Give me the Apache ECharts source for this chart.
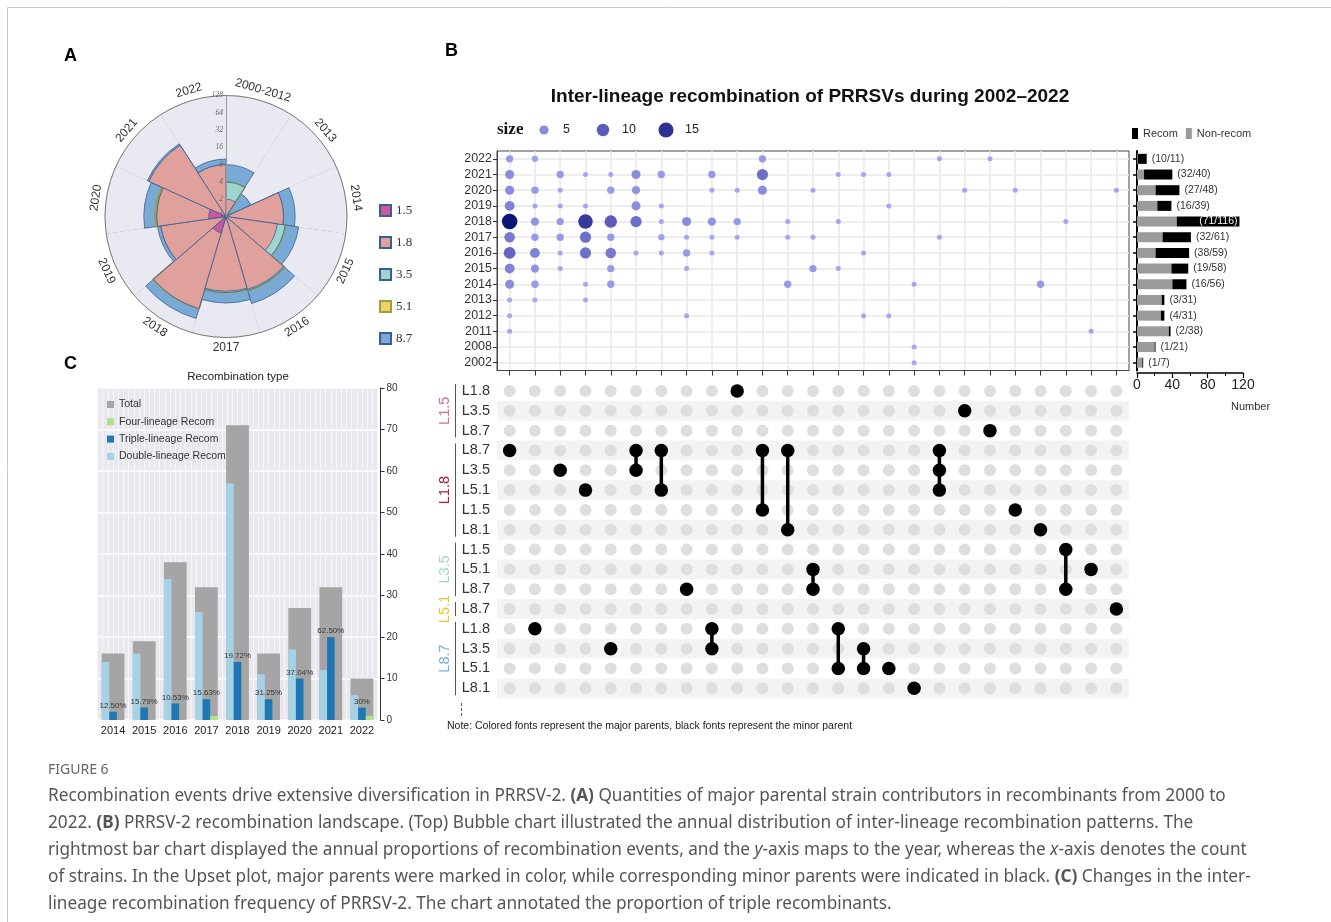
<!DOCTYPE html>
<html><head><meta charset="utf-8">
<script src="https://cdn.jsdelivr.net/npm/echarts@6/dist/echarts.min.js"></script>
<style>html,body{margin:0;padding:0;background:#fff}#c{width:1331px;height:922px}</style>
</head><body><div id="c"></div>
<script>
// ================= DATA =================
// Panel A: major parental lineage counts per period (stacked, log2 radius)
const polarCats = ['2000-2012','2013','2014','2015','2016','2017','2018','2019','2020','2021','2022'];
const l15 = [0,0,0,0,0,0,2,0,2,0,0];
const l18 = [2,1,10,8,21,20,45,14,14,30,8];
const l35 = [2,0,0,3,1,1,0,0,0,0,0];
const l51 = [0,null,null,0,0,0,0,null,1,null,null];
const l87 = [4,2,6,8,16,11,24,2,10,2,2];
const lineageNames = ['1.5','1.8','3.5','5.1','8.7'];
const radiusTickLabels = ['1','2','4','8','16','32','64','128'];

// Panel B: bubble chart (column = recombination pattern, year, count)
const bubbleYears = ['2022','2021','2020','2019','2018','2017','2016','2015','2014','2013','2012','2011','2008','2002'];
const bubbles = [
 [0,'2022',3],[0,'2021',5],[0,'2020',5],[0,'2019',6],[0,'2018',16],[0,'2017',7],[0,'2016',9],[0,'2015',6],[0,'2014',5],[0,'2013',1],[0,'2012',1],[0,'2011',1],
 [1,'2022',2],[1,'2020',3],[1,'2019',1],[1,'2018',4],[1,'2017',3],[1,'2016',6],[1,'2015',4],[1,'2014',3],[1,'2013',1],
 [2,'2021',3],[2,'2020',1],[2,'2019',1],[2,'2018',3],[2,'2017',3],[2,'2016',1],[2,'2015',1],
 [3,'2021',1],[3,'2019',1],[3,'2018',14],[3,'2017',8],[3,'2016',8],[3,'2014',1],[3,'2013',1],
 [4,'2021',1],[4,'2020',3],[4,'2018',10],[4,'2017',3],[4,'2016',7],[4,'2015',3],[4,'2014',3],
 [5,'2021',5],[5,'2020',4],[5,'2019',5],[5,'2018',8],[5,'2016',1],
 [6,'2021',3],[6,'2019',1],[6,'2018',1],[6,'2017',2],[6,'2016',1],
 [7,'2018',5],[7,'2017',1],[7,'2016',3],[7,'2015',1],[7,'2012',1],
 [8,'2021',3],[8,'2020',1],[8,'2018',4],[8,'2017',1],[8,'2016',1],
 [9,'2020',1],[9,'2018',3],[9,'2017',1],
 [10,'2022',3],[10,'2021',8],[10,'2020',5],
 [11,'2018',1],[11,'2017',1],[11,'2014',3],
 [12,'2020',1],[12,'2017',1],[12,'2015',3],
 [13,'2021',1],[13,'2018',1],[13,'2015',1],
 [14,'2021',1],[14,'2016',1],[14,'2012',1],
 [15,'2021',1],[15,'2019',1],[15,'2012',1],
 [16,'2014',1],[16,'2008',1],[16,'2002',1],
 [17,'2022',1],[17,'2017',1],
 [18,'2020',1],[19,'2022',1],[20,'2020',1],[21,'2014',3],[22,'2018',1],[23,'2011',1],[24,'2020',1]
];
const sizeLegendValues = [5,10,15];
// Panel B: right bars (recombinant / total strains per year)
const recom  = [10,32,27,16,71,32,38,19,16,3,4,2,1,1];
const totals = [11,40,48,39,116,61,59,58,56,31,31,38,21,7];
// Panel B: upset matrix (major|minor parent rows, and members of each pattern column)
const upsetRows = ['L1.5|L1.8','L1.5|L3.5','L1.5|L8.7','L1.8|L8.7','L1.8|L3.5','L1.8|L5.1','L1.8|L1.5','L1.8|L8.1',
                   'L3.5|L1.5','L3.5|L5.1','L3.5|L8.7','L5.1|L8.7','L8.7|L1.8','L8.7|L3.5','L8.7|L5.1','L8.7|L8.1'];
const patternMembers = [[3],[12],[4],[5],[13],[3,4],[3,5],[10],[12,13],[0],[3,6],[3,7],[9,10],[12,14],[13,14],[14],[15],[3,4,5],[1],[2],[6],[7],[8,10],[9],[11]];

// Panel C: recombination type per year
const cYears   = ['2014','2015','2016','2017','2018','2019','2020','2021','2022'];
const cTotal   = [16,19,38,32,71,16,27,32,10];
const cDouble  = [14,16,34,26,57,11,17,12,6];
const cTriple  = [2,3,4,5,14,5,10,20,3];
const cFour    = [0,0,0,1,0,0,0,0,1];
const cTriplePct = ['12.50%','15.79%','10.53%','15.63%','19.72%','31.25%','37.04%','62.50%','30%'];

// ================= STYLE =================
const lineageColors = {'1.5':'#c55a9e','1.8':'#e0a09c','3.5':'#9ed6cf','5.1':'#f2d16b','8.7':'#79a9d5'};
const groupColors = {'L1.5':'#d66a9c','L1.8':'#b3184b','L3.5':'#9fd4d4','L5.1':'#f0c232','L8.7':'#77b1de'};
const colorStops = [[1,[161,168,240]],[5,[136,141,222]],[10,[90,92,184]],[15,[46,49,146]],[16,[12,22,118]]];
function bubbleColor(v){
  for (let i=1;i<colorStops.length;i++){
    if (v<=colorStops[i][0]){
      const a=colorStops[i-1], b=colorStops[i], t=(v-a[0])/(b[0]-a[0]);
      const c=a[1].map((x,k)=>Math.round(x+(b[1][k]-x)*t));
      return 'rgb('+c.join(',')+')';
    }
  }
  return 'rgb('+colorStops[colorStops.length-1][1].join(',')+')';
}
function bubbleSize(v){ return Math.sqrt(25 + (v-1)*14.4); }
const SANS = 'Liberation Sans, Arial, sans-serif';
const SERIF = 'Liberation Serif, Times New Roman, serif';

// ================= DERIVED =================
const counts = [l15,l18,l35,l51,l87];
const running = polarCats.map(()=>0);
const cumLog = counts.map(vals => vals.map((v,i)=>{
  if (v==null) return '-';
  running[i]+=v;
  return running[i]>0 ? Math.log2(running[i]) : '-';
}));
const patternNames = patternMembers.map(rows => rows.map(r=>upsetRows[r].replace('|',':')).join(' + '));
const bgDots = [];
patternMembers.forEach((_,c)=>upsetRows.forEach((__,r)=>bgDots.push([c,r])));
const memberDots = [];
patternMembers.forEach((rows,c)=>rows.forEach(r=>memberDots.push([c,r])));
const links = [];
patternMembers.forEach((rows,c)=>{ if(rows.length>1){ links.push([c,Math.min(...rows)],[c,Math.max(...rows)],'-'); }});

const chart = echarts.init(document.getElementById('c'), null, {renderer:'canvas', width:1331, height:922});

const polarSeries = lineageNames.map((n,k)=>({
  type:'bar', coordinateSystem:'polar', polarIndex:0, name:n, data:cumLog[k],
  barGap:'-100%', barCategoryGap:'0%',
  itemStyle:{color:lineageColors[n], borderColor: n==='5.1' ? '#9aa03c' : '#3d5e93', borderWidth: n==='5.1' ? 2 : 0.8}
})).reverse();

const hiddenAxis = {axisLine:{show:false}, axisTick:{show:false}, axisLabel:{show:false}, splitLine:{show:false}, splitArea:{show:false}};

const option = {
  animation:false,
  textStyle:{fontFamily:SANS},
  legend:[
    {data:lineageNames, orient:'vertical', left:374, top:199, itemWidth:11, itemHeight:11, itemGap:19, icon:'rect',
     textStyle:{fontFamily:SERIF, fontSize:13, color:'#333'}, selectedMode:false},
    {data:['Recom','Non-recom'], left:1127, top:123, itemWidth:6, itemHeight:11, itemGap:8, icon:'rect',
     textStyle:{fontSize:11, color:'#333'}, selectedMode:false},
    {data:['Total','Four-lineage Recom','Triple-lineage Recom','Double-lineage Recom'], orient:'vertical', left:102, top:394,
     itemWidth:7, itemHeight:7, itemGap:6.3, icon:'rect', textStyle:{fontSize:10.5, color:'#333'}, selectedMode:false}
  ],
  polar:[{center:[226,216.5], radius:121},{center:[226,216.5], radius:121}],
  angleAxis:[
    {polarIndex:0, type:'category', data:polarCats, startAngle:90, clockwise:true, boundaryGap:true,
     axisLine:{show:true, lineStyle:{color:'#7a7a7a', width:1}}, axisTick:{show:false}, axisLabel:{show:false},
     splitLine:{show:true, interval:0, lineStyle:{color:'#8a8a8a', width:1}},
     splitArea:{show:true, interval:0, areaStyle:{color:['#e8e9f1','#e8e9f1']}}},
    {polarIndex:1, type:'category', data:polarCats, startAngle:90, clockwise:true, show:false}
  ],
  radiusAxis:[
    {polarIndex:0, type:'value', min:0, max:7, interval:1, axisLine:{show:false}, axisTick:{show:false}, axisLabel:{show:false},
     splitLine:{show:true, lineStyle:{color:'#d3d5dd', width:1}}},
    {polarIndex:1, type:'value', min:0, max:7, interval:1, z:20,
     axisLine:{show:true, lineStyle:{color:'#9a9a9a', width:1}}, axisTick:{show:false}, splitLine:{show:false},
     axisLabel:{show:true, formatter:v=>radiusTickLabels[v], fontSize:7.5, fontStyle:'italic', fontFamily:SERIF, color:'#666', margin:3}}
  ],
  grid:[
    {left:497, top:151, width:632, height:219.5, show:true, borderColor:'#444', borderWidth:1, backgroundColor:'transparent'},
    {left:1137, top:151, width:106, height:219.5},
    {left:497, top:381.1, width:632, height:317.1},
    {left:97.5, top:388, width:280, height:332, show:true, backgroundColor:'#e8e8ee', borderWidth:0},
    {left:97.5, top:388, width:280, height:332}
  ],
  xAxis:[
    {gridIndex:0, type:'category', data:patternNames, boundaryGap:true,
     axisLine:{show:true, lineStyle:{color:'#444'}}, axisTick:{show:true, interval:0, alignWithLabel:true, length:5, lineStyle:{color:'#333'}},
     axisLabel:{show:false, interval:0}, splitLine:{show:true, interval:0, alignWithLabel:true, lineStyle:{color:'#e9e9e9', width:1.5}}},
    {gridIndex:1, type:'value', min:0, max:120, interval:40, offset:2.5,
     axisLine:{show:true, lineStyle:{color:'#000', width:1.5}}, axisTick:{show:true, length:5, lineStyle:{color:'#000', width:1.2}},
     minorTick:{show:true, splitNumber:2, length:3, lineStyle:{color:'#000'}},
     axisLabel:{fontSize:14, color:'#222', margin:5}, splitLine:{show:false},
     name:'Number', nameLocation:'end', nameGap:2, nameTextStyle:{fontSize:11, color:'#333', align:'left', verticalAlign:'top', padding:[28,0,0,-14]}},
    Object.assign({gridIndex:2, type:'category', data:patternNames}, hiddenAxis),
    {gridIndex:3, type:'category', data:cYears, axisLine:{show:false, onZero:false}, axisTick:{show:false}, axisLabel:{fontSize:11, color:'#222', margin:5, interval:0}},
    {gridIndex:3, type:'value', min:0, max:54, interval:1, position:'top', axisLine:{show:false, onZero:false}, axisTick:{show:false}, axisLabel:{show:false},
     splitLine:{show:true, lineStyle:{color:'#f6f6f9', width:1}}},
    Object.assign({gridIndex:4, type:'category', data:cYears}, hiddenAxis)
  ],
  yAxis:[
    {gridIndex:0, type:'category', data:bubbleYears, inverse:true, boundaryGap:true,
     axisLine:{show:true, lineStyle:{color:'#444'}}, axisTick:{show:true, interval:0, alignWithLabel:true, length:4, lineStyle:{color:'#333'}},
     axisLabel:{fontSize:12.5, color:'#333', margin:5, interval:0},
     splitLine:{show:true, interval:0, alignWithLabel:true, lineStyle:{color:'#e9e9e9', width:1.5}}},
    {gridIndex:1, type:'category', data:bubbleYears, inverse:true,
     axisLine:{show:true, onZero:false, lineStyle:{color:'#000', width:2}}, axisTick:{show:true, interval:0, alignWithLabel:true, length:4, lineStyle:{color:'#000', width:1.5}},
     axisLabel:{show:false, interval:0}},
    {gridIndex:2, type:'category', data:upsetRows, inverse:true, axisLine:{show:false}, axisTick:{show:false},
     axisLabel:{formatter:v=>v.split('|')[1], fontSize:14.5, color:'#333', margin:7, interval:0},
     splitArea:{show:true, interval:0, areaStyle:{color:['#ffffff','#f3f3f3']}}},
    {gridIndex:3, type:'value', position:'right', min:0, max:80, interval:10, offset:3,
     axisLine:{show:true, onZero:false, lineStyle:{color:'#333'}}, axisTick:{show:true, length:4, lineStyle:{color:'#333'}},
     axisLabel:{fontSize:10, color:'#333', margin:6}, splitLine:{show:true, lineStyle:{color:'#ffffff', width:1.5}}},
    Object.assign({gridIndex:4, type:'value', min:0, max:80, position:'right'}, hiddenAxis)
  ],
  series:[
    ...polarSeries,
    {type:'scatter', name:'bubbles', xAxisIndex:0, yAxisIndex:0,
     data:bubbles.map(b=>[b[0], bubbleYears.indexOf(b[1]), b[2]]),
     symbolSize:(v)=>bubbleSize(v[2]), itemStyle:{color:(p)=>bubbleColor(p.value[2]), opacity:1}},
    {type:'bar', name:'Non-recom', xAxisIndex:1, yAxisIndex:1, stack:'r', barWidth:10, itemStyle:{color:'#9b9b9b'},
     data:totals.map((t,i)=>t-recom[i])},
    {type:'bar', name:'Recom', xAxisIndex:1, yAxisIndex:1, stack:'r', barWidth:10, itemStyle:{color:'#000'},
     data:recom.map((r,i)=> totals[i]>100 ? {value:r, label:{position:'insideRight', color:'#fff', distance:2}} : r),
     label:{show:true, position:'right', distance:5, fontSize:10.5, color:'#333',
            formatter:p=>'('+recom[p.dataIndex]+'/'+totals[p.dataIndex]+')'}},
    {type:'scatter', name:'slots', xAxisIndex:2, yAxisIndex:2, data:bgDots, symbolSize:12, itemStyle:{color:'#dedede', opacity:1}, silent:true},
    {type:'line', name:'links', xAxisIndex:2, yAxisIndex:2, data:links, symbol:'none', connectNulls:false,
     lineStyle:{color:'#000', width:3.5, opacity:1}},
    {type:'scatter', name:'members', xAxisIndex:2, yAxisIndex:2, data:memberDots, symbolSize:13.5, itemStyle:{color:'#000', opacity:1}},
    {type:'bar', name:'Total', xAxisIndex:5, yAxisIndex:4, barWidth:22.8, itemStyle:{color:'#a5a5a5'}, data:cTotal},
    {type:'bar', name:'Double-lineage Recom', xAxisIndex:3, yAxisIndex:3, barWidth:7.6, barGap:'0%', itemStyle:{color:'#a7d2e6'}, data:cDouble},
    {type:'bar', name:'Triple-lineage Recom', xAxisIndex:3, yAxisIndex:3, barWidth:7.6, barGap:'0%', itemStyle:{color:'#1f78b4'}, data:cTriple,
     label:{show:true, position:'top', distance:2, fontSize:8, color:'#333', formatter:p=>cTriplePct[p.dataIndex]}},
    {type:'bar', name:'Four-lineage Recom', xAxisIndex:3, yAxisIndex:3, barWidth:7.6, barGap:'0%', itemStyle:{color:'#b2df8a'}, data:cFour}
  ]
};
chart.setOption(option);

// ================= GRAPHICS (positions from the library's coordinate systems) =================
const g = [];
g.push({type:'polyline', shape:{points:[[7.5,930],[7.5,7.5],[1331,7.5]]}, style:{stroke:'#c9c9c9', lineWidth:1, fill:null}, silent:true});
g.push({type:'text', x:64, y:47, style:{text:'A', font:'bold 18px '+SANS, fill:'#000'}});
g.push({type:'text', x:445, y:42, style:{text:'B', font:'bold 18px '+SANS, fill:'#000'}});
g.push({type:'text', x:64, y:355, style:{text:'C', font:'bold 18px '+SANS, fill:'#000'}});
g.push({type:'text', x:810, y:97, style:{text:'Inter-lineage recombination of PRRSVs during 2002\u20132022', font:'bold 19px '+SANS, fill:'#111', align:'center', verticalAlign:'middle'}});
g.push({type:'text', x:238, y:377, style:{text:'Recombination type', font:'11.5px '+SANS, fill:'#222', align:'center', verticalAlign:'middle'}});
g.push({type:'text', x:447, y:726, style:{text:'Note: Colored fonts represent the major parents, black fonts represent the minor parent', font:'10.5px '+SANS, fill:'#222', verticalAlign:'middle'}});
g.push({type:'text', x:497, y:130, style:{text:'size', font:'bold 17px '+SERIF, fill:'#111', verticalAlign:'middle'}});
const sizeLegendX = [544, 603, 666];
sizeLegendValues.forEach((v,i)=>{
  g.push({type:'circle', shape:{cx:sizeLegendX[i], cy:130, r:bubbleSize(v)/2}, style:{fill:bubbleColor(v)}});
  g.push({type:'text', x:sizeLegendX[i]+19, y:130, style:{text:String(v), font:'12.5px '+SANS, fill:'#222', verticalAlign:'middle'}});
});
const centerPt = chart.convertToPixel({polarIndex:0}, [0, 0]);
polarCats.forEach((cat,i)=>{
  const p = chart.convertToPixel({polarIndex:0}, [7.6, i]);
  const dx = p[0]-centerPt[0], dy = p[1]-centerPt[1];
  let th = Math.atan2(dx, -dy)*180/Math.PI; if (th<0) th+=360;
  let rot = (th>90 && th<270) ? -(th-180) : -th;
  if (th>=270) rot = 360-th;
  g.push({type:'text', x:p[0], y:p[1], rotation:rot*Math.PI/180,
          style:{text:cat, font:'12px '+SANS, fill:'#333', align:'center', verticalAlign:'middle'}});
});
const groups = [];
upsetRows.forEach((r,i)=>{
  const major = r.split('|')[0];
  if (!groups.length || groups[groups.length-1].name!==major) groups.push({name:major, from:i, to:i});
  else groups[groups.length-1].to = i;
});
groups.forEach(gr=>{
  const y1 = chart.convertToPixel({yAxisIndex:2}, gr.from);
  const y2 = chart.convertToPixel({yAxisIndex:2}, gr.to);
  g.push({type:'line', shape:{x1:455.5, y1:y1-7, x2:455.5, y2:y2+7}, style:{stroke:'#555', lineWidth:1}});
  g.push({type:'text', x:445, y:(y1+y2)/2, rotation:Math.PI/2,
          style:{text:gr.name, font:'14.5px '+SANS, fill:groupColors[gr.name], align:'center', verticalAlign:'middle'}});
});
g.push({type:'line', shape:{x1:461.5, y1:703, x2:461.5, y2:716}, style:{stroke:'#555', lineWidth:1, lineDash:[3,2]}});
g.push({type:'text', x:48, y:770, style:{text:'FIGURE 6', font:'14px Noto Sans, '+SANS, fill:'#666', verticalAlign:'middle'}});
const CAP = 17.2;
const capRich = {
  b:{fontWeight:'bold', fontSize:CAP, fontFamily:'Noto Sans', fill:'#555'},
  i:{fontStyle:'italic', fontSize:CAP, fontFamily:'Noto Sans', fill:'#555'}
};
const capText = [
 'Recombination events drive extensive diversification in PRRSV-2. {b|(A)} Quantities of major parental strain contributors in recombinants from 2000 to',
 '2022. {b|(B)} PRRSV-2 recombination landscape. (Top) Bubble chart illustrated the annual distribution of inter-lineage recombination patterns. The',
 'rightmost bar chart displayed the annual proportions of recombination events, and the {i|y}-axis maps to the year, whereas the {i|x}-axis denotes the count',
 'of strains. In the Upset plot, major parents were marked in color, while corresponding minor parents were indicated in black. {b|(C)} Changes in the inter-',
 'lineage recombination frequency of PRRSV-2. The chart annotated the proportion of triple recombinants.'
];
capText.forEach((t,i)=>{
  g.push({type:'text', x:48, y:796+i*27, style:{text:t, rich:capRich, fontSize:CAP, fontFamily:'Noto Sans', fill:'#555', verticalAlign:'middle'}});
});
chart.setOption({graphic:{elements:g}});
</script>
</body></html>
